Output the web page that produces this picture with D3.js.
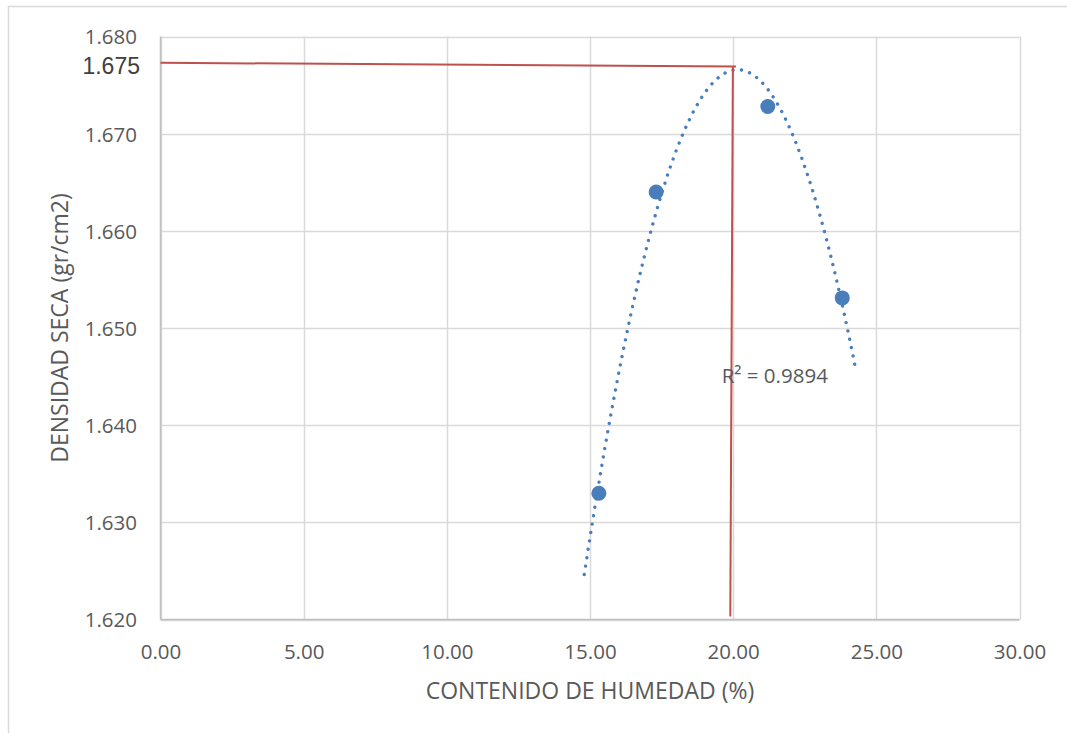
<!DOCTYPE html>
<html>
<head>
<meta charset="utf-8">
<script src="https://cdn.jsdelivr.net/npm/d3@7"></script>
<style>
  html, body { margin: 0; padding: 0; background: #ffffff; }
  svg { display: block; }
</style>
</head>
<body>
<svg id="chart" width="1067" height="733"></svg>
<script>
// ---- data ----
const moisture = [15.31, 17.31, 21.21, 23.81];          // CONTENIDO DE HUMEDAD (%)
const dryDensity = [1.6330, 1.6640, 1.6728, 1.6531];    // DENSIDAD SECA (gr/cm2)
const xTicks = [0, 5, 10, 15, 20, 25, 30];
const yTicks = [1.620, 1.630, 1.640, 1.650, 1.660, 1.670, 1.680];
const trendRange = [14.80, 24.30];
const r2Label = "R² = 0.9894";
const r2Pos = [19.60, 1.6451];
// hand-drawn reference lines (red)
const refHoriz = [[0, 1.6773], [20.10, 1.6769]];
const refVert = [[19.99, 1.6769], [19.90, 1.6203]];
const refLabel = "1.675";

// ---- layout ----
const svg = d3.select("#chart");
const L = 160.5, R = 1019.5, T = 36.5, B = 619.5;
const x = d3.scaleLinear().domain([0, 30]).range([L, R]);
const y = d3.scaleLinear().domain([1.620, 1.680]).range([B, T]);

const grey = "#595959";
const gridCol = "#d9d9d9";
const blue = "#4a7ebb";
const red = "#c0504d";
const font = "'Open Sans', sans-serif";

// outer chart border
svg.append("rect").attr("x", 8.5).attr("y", 6.5).attr("width", 1080).attr("height", 760)
  .attr("fill", "#fff").attr("stroke", gridCol).attr("stroke-width", 1.5);

// gridlines
const g = svg.append("g");
g.selectAll(".vg").data(xTicks).join("line")
  .attr("x1", d => Math.round(x(d)) + 0.5).attr("x2", d => Math.round(x(d)) + 0.5)
  .attr("y1", T).attr("y2", B)
  .attr("stroke", gridCol).attr("stroke-width", 1.5);
g.selectAll(".hg").data(yTicks).join("line")
  .attr("y1", d => Math.round(y(d)) + 0.5).attr("y2", d => Math.round(y(d)) + 0.5)
  .attr("x1", L).attr("x2", R)
  .attr("stroke", gridCol).attr("stroke-width", 1.5);
// axis lines
svg.append("line").attr("x1", L).attr("x2", R).attr("y1", B).attr("y2", B)
  .attr("stroke", "#bfbfbf").attr("stroke-width", 1.5);
svg.append("line").attr("x1", L).attr("x2", L).attr("y1", T).attr("y2", B)
  .attr("stroke", "#bfbfbf").attr("stroke-width", 1.5);

// x axis labels (via d3 axis, styled)
const xAxis = d3.axisBottom(x).tickValues(xTicks).tickFormat(d3.format(".2f")).tickSize(0).tickPadding(0);
const xg = svg.append("g").attr("transform", `translate(0,${B})`).call(xAxis);
xg.select(".domain").remove();
xg.selectAll("text").attr("dy", null).attr("y", 39)
  .attr("font-family", font).attr("font-size", "20.5px").attr("fill", grey);

// y axis labels
const yAxis = d3.axisLeft(y).tickValues(yTicks).tickFormat(d3.format(".3f")).tickSize(0).tickPadding(0);
const yg = svg.append("g").attr("transform", `translate(137,0)`).call(yAxis);
yg.select(".domain").remove();
yg.selectAll("text").attr("dy", "0.36em").attr("x", 0)
  .attr("font-family", font).attr("font-size", "20.5px").attr("fill", grey);

// axis titles
svg.append("text").attr("x", (L + R) / 2).attr("y", 699)
  .attr("text-anchor", "middle").attr("font-family", font).attr("font-size", "23px")
  .attr("fill", grey).text("CONTENIDO DE HUMEDAD (%)");
svg.append("text").attr("transform", `translate(68,${(T + B) / 2}) rotate(-90)`)
  .attr("text-anchor", "middle").attr("font-family", font).attr("font-size", "23px")
  .attr("fill", grey).text("DENSIDAD SECA (gr/cm2)");

// quadratic least-squares trendline from the data points
function quadFit(xs, ys) {
  let S = [0, 0, 0, 0, 0], Sy = [0, 0, 0];
  xs.forEach((xv, i) => {
    for (let k = 0; k < 5; k++) S[k] += Math.pow(xv, k);
    for (let k = 0; k < 3; k++) Sy[k] += ys[i] * Math.pow(xv, k);
  });
  const M = [[S[0], S[1], S[2], Sy[0]], [S[1], S[2], S[3], Sy[1]], [S[2], S[3], S[4], Sy[2]]];
  for (let i = 0; i < 3; i++) {
    let p = i;
    for (let r = i + 1; r < 3; r++) if (Math.abs(M[r][i]) > Math.abs(M[p][i])) p = r;
    [M[i], M[p]] = [M[p], M[i]];
    for (let r = 0; r < 3; r++) if (r !== i) {
      const f = M[r][i] / M[i][i];
      for (let c = i; c < 4; c++) M[r][c] -= f * M[i][c];
    }
  }
  return [M[0][3] / M[0][0], M[1][3] / M[1][1], M[2][3] / M[2][2]];
}
const coef = quadFit(moisture, dryDensity);
const fx = xv => coef[0] + coef[1] * xv + coef[2] * xv * xv;
const trendX = d3.range(0, 201).map(i => trendRange[0] + (trendRange[1] - trendRange[0]) * i / 200);
const line = d3.line().x(d => x(d)).y(d => y(fx(d))).curve(d3.curveLinear);
svg.append("path").datum(trendX).attr("d", line)
  .attr("fill", "none").attr("stroke", blue).attr("stroke-width", 3.4)
  .attr("stroke-linecap", "round").attr("stroke-dasharray", "0.01 8.5");

// red reference lines
const rl = d3.line().x(d => x(d[0])).y(d => y(d[1]));
svg.append("path").datum(refHoriz).attr("d", rl).attr("fill", "none").attr("stroke", red).attr("stroke-width", 2);
svg.append("path").datum(refVert).attr("d", rl).attr("fill", "none").attr("stroke", red).attr("stroke-width", 2);
svg.append("text").attr("x", 140).attr("y", y(refHoriz[0][1]) + 2.5).attr("dy", "0.36em")
  .attr("text-anchor", "end").attr("font-family", "'Liberation Sans', Arial, sans-serif")
  .attr("font-size", "23px").attr("fill", "#404040").text(refLabel);

// points
svg.selectAll(".pt").data(moisture).join("circle")
  .attr("cx", d => x(d)).attr("cy", (d, i) => y(dryDensity[i])).attr("r", 7.5)
  .attr("fill", blue);

// R² label
svg.append("text").attr("x", x(r2Pos[0])).attr("y", y(r2Pos[1])).attr("dy", "0.36em")
  .attr("font-family", font).attr("font-size", "20.5px").attr("fill", grey).text(r2Label);
</script>
</body>
</html>
